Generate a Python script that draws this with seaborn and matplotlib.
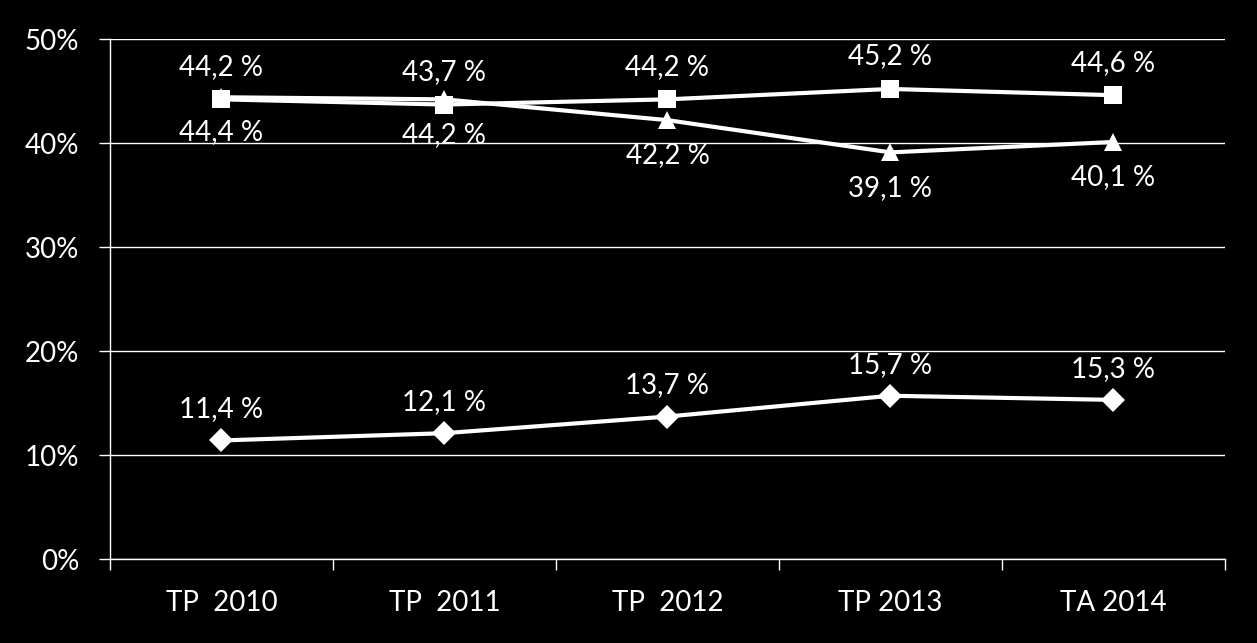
import matplotlib
matplotlib.use("Agg")
import matplotlib.pyplot as plt
import seaborn as sns
import pandas as pd
from matplotlib.ticker import FixedLocator

# chart data
categories = ["TP  2010", "TP  2011", "TP  2012", "TP 2013", "TA 2014"]
squares = [44.2, 43.7, 44.2, 45.2, 44.6]
triangles = [44.4, 44.2, 42.2, 39.1, 40.1]
diamonds = [11.4, 12.1, 13.7, 15.7, 15.3]
y_ticks = [0, 10, 20, 30, 40, 50]

sns.set_theme(style="dark")
plt.rcParams["font.family"] = ["Lato", "DejaVu Sans"]

rows = []
for name, vals in [("squares", squares), ("triangles", triangles), ("diamonds", diamonds)]:
    for i, v in enumerate(vals):
        rows.append({"series": name, "x": i, "value": v})
df = pd.DataFrame(rows)

fig = plt.figure(figsize=(12.57, 6.43), dpi=100, facecolor="black")
ax = fig.add_axes([0.0875, 0.1306, 0.8870, 0.8087])
ax.set_facecolor("black")

sns.lineplot(data=df, x="x", y="value", hue="series", style="series",
             palette={"squares": "white", "triangles": "white", "diamonds": "white"},
             markers={"squares": "s", "triangles": "^", "diamonds": "D"},
             dashes=False, linewidth=3, markersize=12.5, markeredgewidth=0,
             legend=False, ax=ax)

def fmt(v):
    return f"{v:.1f} %".replace(".", ",")

# data labels
fs = 20
for i, v in enumerate(squares):
    ax.annotate(fmt(v), (i, v), xytext=(0, 14), textcoords="offset points",
                ha="center", va="bottom", color="white", fontsize=fs)
for i, v in enumerate(triangles):
    ax.annotate(fmt(v), (i, v), xytext=(0, -16), textcoords="offset points",
                ha="center", va="top", color="white", fontsize=fs)
for i, v in enumerate(diamonds):
    ax.annotate(fmt(v), (i, v), xytext=(0, 13), textcoords="offset points",
                ha="center", va="bottom", color="white", fontsize=fs)

ax.set_xlim(-0.5, len(categories) - 0.5)
ax.set_ylim(0, 50)
ax.set_xticks(range(len(categories)))
ax.set_xticklabels(categories)
ax.xaxis.set_minor_locator(FixedLocator([i - 0.5 for i in range(len(categories) + 1)]))
ax.tick_params(axis="x", which="major", length=0, pad=22, colors="white", labelsize=fs)
ax.tick_params(axis="x", which="minor", length=8, width=1, color="white", direction="out")
ax.set_yticks(y_ticks)
ax.set_yticklabels([f"{t}%" for t in y_ticks])
ax.tick_params(axis="y", length=8, width=1, color="white", direction="out",
               colors="white", labelsize=fs, pad=14)
ax.tick_params(axis="y", which="both", left=True)
ax.tick_params(axis="x", which="minor", bottom=True)

ax.grid(axis="y", color="white", linewidth=1)
ax.grid(axis="x", visible=False)
ax.set_axisbelow(True)
for side in ["top", "right"]:
    ax.spines[side].set_visible(False)
for side in ["left", "bottom"]:
    ax.spines[side].set_color("white")
    ax.spines[side].set_linewidth(1)
ax.set_xlabel("")
ax.set_ylabel("")

fig.savefig("out.png", dpi=100, facecolor="black")
